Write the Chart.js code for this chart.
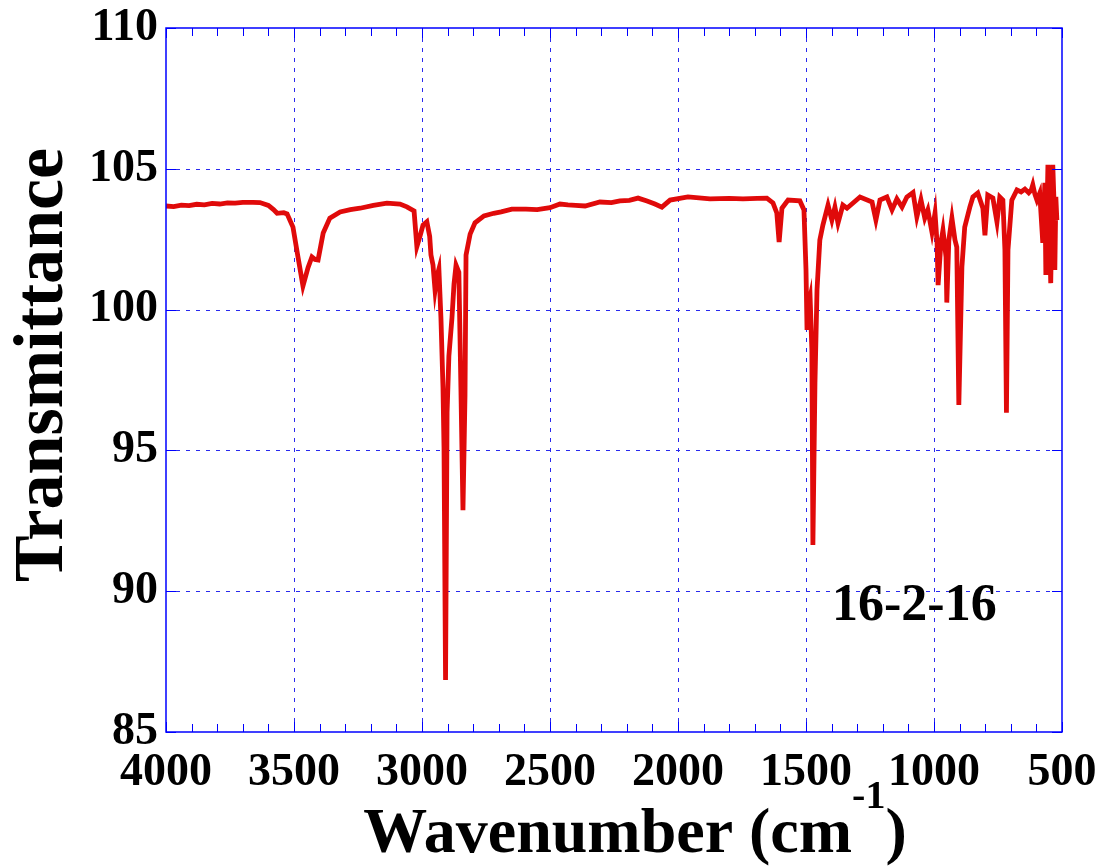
<!DOCTYPE html>
<html>
<head>
<meta charset="utf-8">
<script src="https://cdn.jsdelivr.net/npm/chart.js@4"></script>
<style>
html,body{margin:0;padding:0;background:#fff;}
canvas{display:block;}
</style>
</head>
<body>
<canvas id="c" width="1106" height="867"></canvas>
<script>
// ---- data ----
const wavenumber = [
  4000, 3970, 3940, 3910, 3880, 3850, 3820, 3790, 3760, 3730,
  3700, 3660, 3633, 3600, 3580, 3566, 3540, 3527, 3504, 3485,
  3465, 3445, 3430, 3418, 3406, 3386, 3360, 3320, 3280, 3242,
  3190, 3137, 3086, 3059, 3031, 3020, 3008, 2996, 2981, 2970,
  2965, 2957, 2949, 2941, 2934, 2926, 2918, 2914, 2908, 2902,
  2895, 2883, 2875, 2867, 2856, 2848, 2840, 2832, 2828, 2812,
  2793, 2758, 2720, 2691, 2649, 2594, 2550, 2500, 2461, 2430,
  2400, 2363, 2305, 2260, 2227, 2190, 2156, 2121, 2090, 2063,
  2031, 1961, 1875, 1800, 1746, 1690, 1653, 1629, 1614, 1605,
  1594, 1570, 1524, 1508, 1500, 1496, 1490, 1484, 1477, 1473,
  1465, 1457, 1446, 1434, 1414, 1399, 1387, 1375, 1356, 1340,
  1289, 1242, 1227, 1211, 1184, 1164, 1145, 1125, 1106, 1082,
  1067, 1051, 1036, 1024, 1008, 996, 988, 984, 973, 965,
  953, 950, 942, 930, 918, 911, 903, 891, 880, 860,
  848, 829, 809, 801, 790, 770, 754, 743, 731, 723,
  717, 711, 696, 676, 660, 645, 630, 620, 614, 606,
  598, 587, 575, 567, 563, 555, 547, 544, 536, 530,
  528, 524, 520
];
const transmittance = [
  103.68, 103.66, 103.71, 103.69, 103.74, 103.72, 103.77, 103.75, 103.79, 103.78,
  103.81, 103.81, 103.80, 103.70, 103.55, 103.42, 103.44, 103.40, 102.93, 101.90,
  100.84, 101.50, 101.87, 101.78, 101.76, 102.72, 103.25, 103.47, 103.55, 103.60,
  103.70, 103.78, 103.75, 103.65, 103.50, 102.24, 102.60, 103.00, 103.12, 102.60,
  101.94, 101.58, 100.69, 101.20, 101.44, 99.70, 97.22, 95.10, 86.85, 96.36,
  98.35, 99.70, 100.90, 101.58, 101.33, 97.22, 92.88, 96.97, 101.94, 102.68,
  103.08, 103.33, 103.42, 103.47, 103.57, 103.57, 103.55, 103.62, 103.75, 103.72,
  103.70, 103.68, 103.82, 103.80, 103.86, 103.88, 103.96, 103.86, 103.75, 103.64,
  103.89, 104.00, 103.93, 103.95, 103.93, 103.95, 103.96, 103.79, 103.43, 102.40,
  103.60, 103.89, 103.86, 103.54, 101.41, 99.28, 100.20, 100.45, 98.57, 91.64,
  97.40, 100.70, 102.47, 103.00, 103.71, 103.18, 103.64, 103.07, 103.71, 103.60,
  104.00, 103.82, 103.18, 103.89, 104.00, 103.54, 103.93, 103.64, 104.00, 104.16,
  103.29, 103.90, 103.25, 103.54, 102.75, 103.43, 102.37, 100.87, 102.37, 102.82,
  101.87, 100.25, 102.47, 103.25, 102.47, 102.22, 96.61, 101.51, 102.93, 103.64,
  104.00, 104.14, 103.60, 102.64, 104.07, 103.96, 103.11, 104.00, 103.89, 102.12,
  96.34, 102.12, 103.89, 104.25, 104.18, 104.28, 104.15, 104.25, 104.43, 104.10,
  103.89, 104.14, 102.37, 104.50, 101.23, 105.14, 102.12, 100.94, 105.14, 103.50,
  101.41, 104.00, 103.18
];
const xTickValues = [4000, 3500, 3000, 2500, 2000, 1500, 1000, 500];
const yTickValues = [85, 90, 95, 100, 105, 110];
const xTitleMain = 'Wavenumber (cm';
const xTitleSup = '-1';
const xTitleEnd = ')';
const yTitle = 'Transmittance';
const sampleLabel = '16-2-16';

const FONT = '"Liberation Serif", "Times New Roman", serif';
const AXIS_BLUE = '#0000ff';
const GRID_BLUE = '#2a2aee';

const decorations = {
  id: 'decorations',
  beforeDatasetsDraw(chart) {
    const {ctx, chartArea: a, scales: {x, y}} = chart;
    ctx.save();
    ctx.strokeStyle = GRID_BLUE;
    ctx.lineWidth = 1;
    ctx.setLineDash([4, 6]);
    yTickValues.forEach(v => {
      if (v === y.min || v === y.max) return;
      const py = Math.round(y.getPixelForValue(v)) + 0.5;
      ctx.beginPath(); ctx.moveTo(a.left, py); ctx.lineTo(a.right, py); ctx.stroke();
    });
    xTickValues.forEach(v => {
      if (v === x.min || v === x.max) return;
      const px = Math.round(x.getPixelForValue(v)) + 0.5;
      ctx.beginPath(); ctx.moveTo(px, a.top); ctx.lineTo(px, a.bottom); ctx.stroke();
    });
    ctx.restore();
  },
  afterDatasetsDraw(chart) {
    const {ctx, chartArea: a, scales: {x, y}} = chart;
    ctx.save();
    ctx.strokeStyle = AXIS_BLUE;
    ctx.lineWidth = 1.5;
    ctx.setLineDash([]);
    ctx.strokeRect(a.left, a.top, a.right - a.left, a.bottom - a.top);
    ctx.lineWidth = 1;
    for (let v = x.min; v <= x.max; v += 100) {
      const px = Math.round(x.getPixelForValue(v)) + 0.5;
      const len = (v % 500 === 0) ? 10 : 8;
      ctx.beginPath();
      ctx.moveTo(px, a.bottom); ctx.lineTo(px, a.bottom - len);
      ctx.moveTo(px, a.top); ctx.lineTo(px, a.top + len);
      ctx.stroke();
    }
    yTickValues.forEach(v => {
      const py = Math.round(y.getPixelForValue(v)) + 0.5;
      ctx.beginPath();
      ctx.moveTo(a.left, py); ctx.lineTo(a.left + 10, py);
      ctx.moveTo(a.right, py); ctx.lineTo(a.right - 10, py);
      ctx.stroke();
    });
    ctx.restore();
  },
  afterDraw(chart) {
    const {ctx} = chart;
    ctx.save();
    ctx.fillStyle = '#000';
    ctx.font = 'bold 70px ' + FONT;
    ctx.textAlign = 'center';
    ctx.textBaseline = 'alphabetic';
    ctx.translate(62, 365);
    ctx.rotate(-Math.PI / 2);
    ctx.fillText(yTitle, 0, 0);
    ctx.restore();

    ctx.save();
    ctx.fillStyle = '#000';
    ctx.textBaseline = 'alphabetic';
    ctx.textAlign = 'left';
    const mainFont = 'bold 64px ' + FONT;
    const supFont = 'bold 40px ' + FONT;
    ctx.font = mainFont;
    const w1 = ctx.measureText(xTitleMain).width;
    const w3 = ctx.measureText(xTitleEnd).width;
    ctx.font = supFont;
    const w2 = ctx.measureText(xTitleSup).width;
    const total = w1 + w2 + w3;
    const sx = 635 - total / 2;
    const base = 852;
    ctx.font = mainFont;
    ctx.fillText(xTitleMain, sx, base);
    ctx.font = supFont;
    ctx.fillText(xTitleSup, sx + w1, base - 44);
    ctx.font = mainFont;
    ctx.fillText(xTitleEnd, sx + w1 + w2, base);

    ctx.font = 'bold 52px ' + FONT;
    ctx.fillText(sampleLabel, 832, 620);
    ctx.restore();
  }
};

const points = wavenumber.map((w, i) => ({x: w, y: transmittance[i]}));

function zeroPad(s) {
  s.paddingLeft = 0; s.paddingRight = 0; s.paddingTop = 0; s.paddingBottom = 0;
}

new Chart(document.getElementById('c'), {
  type: 'line',
  data: {
    datasets: [{
      data: points,
      borderColor: '#e00a0a',
      borderWidth: 4.8,
      pointRadius: 0,
      tension: 0,
      fill: false
    }]
  },
  options: {
    responsive: false,
    animation: false,
    devicePixelRatio: 1,
    layout: {padding: {top: 28, right: 44, left: 0, bottom: 0}},
    plugins: {legend: {display: false}, tooltip: {enabled: false}},
    scales: {
      x: {
        type: 'linear',
        reverse: true,
        min: 500,
        max: 4000,
        afterBuildTicks: s => { s.ticks = xTickValues.map(v => ({value: v})); },
        afterFit: s => { s.height = 135; zeroPad(s); },
        grid: {display: false, drawTicks: false},
        border: {display: false},
        ticks: {
          color: '#000',
          padding: 14,
          maxRotation: 0,
          autoSkip: false,
          font: {family: FONT, size: 46, weight: 'bold'},
          callback: v => String(v)
        }
      },
      y: {
        type: 'linear',
        min: 85,
        max: 110,
        afterBuildTicks: s => { s.ticks = yTickValues.map(v => ({value: v})); },
        afterFit: s => { s.width = 166; zeroPad(s); },
        grid: {display: false, drawTicks: false},
        border: {display: false},
        ticks: {
          color: '#000',
          padding: 8,
          autoSkip: false,
          font: {family: FONT, size: 46, weight: 'bold'},
          callback: v => String(v)
        }
      }
    }
  },
  plugins: [decorations]
});
</script>
</body>
</html>
